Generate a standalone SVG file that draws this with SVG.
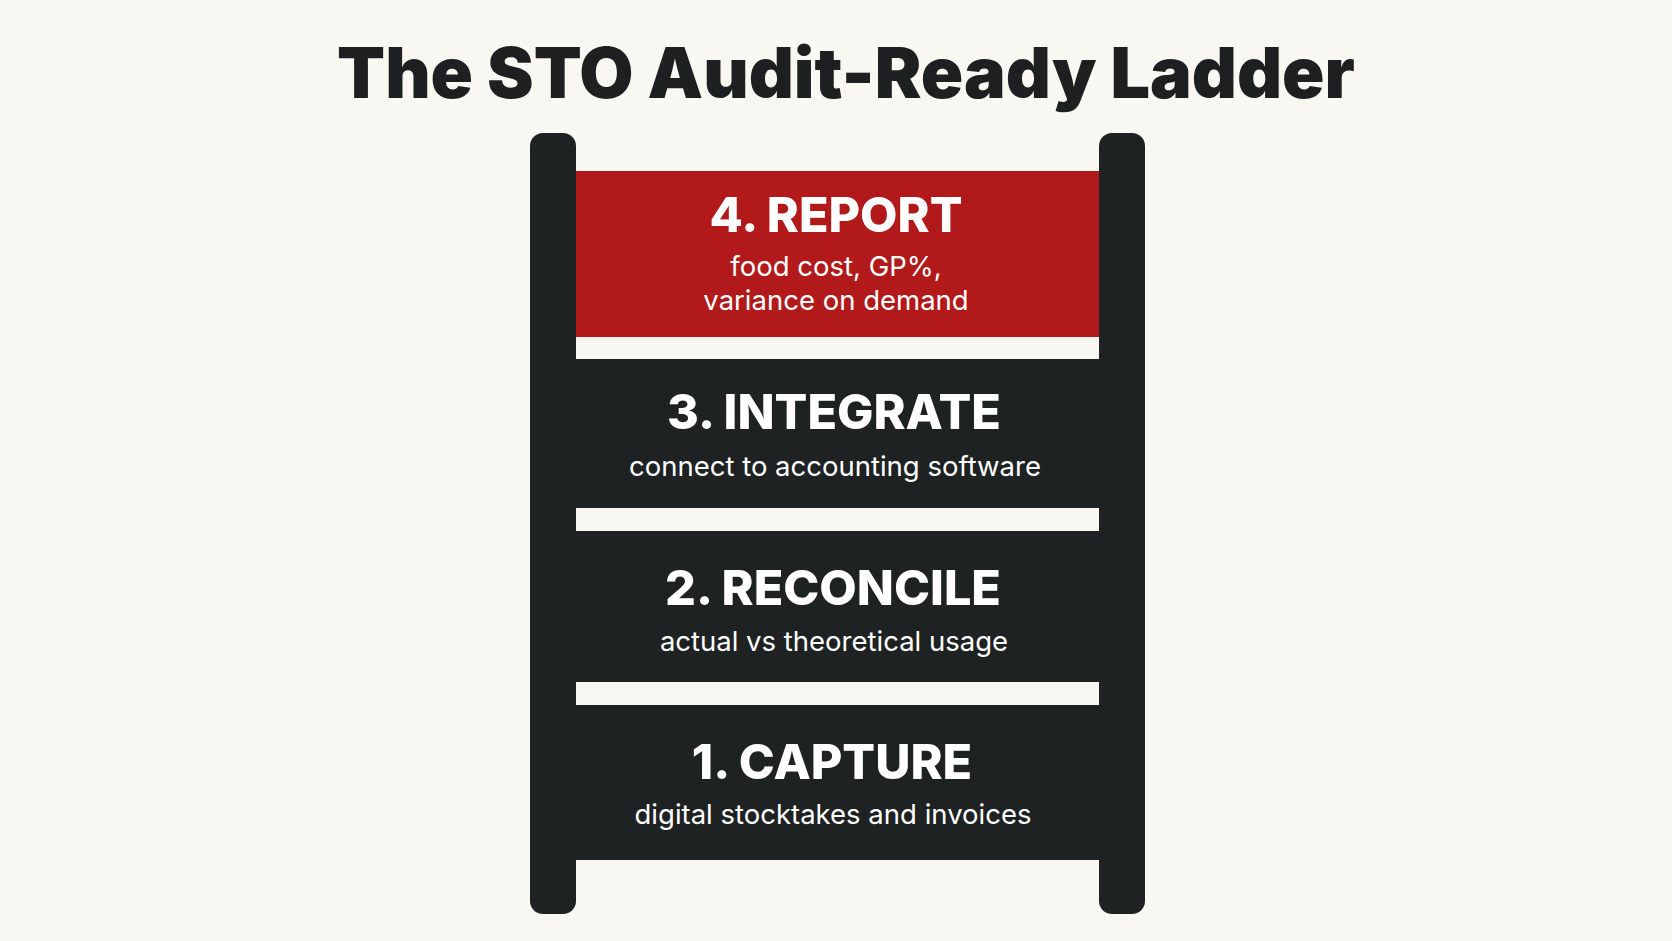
<svg xmlns="http://www.w3.org/2000/svg" width="1672" height="941" viewBox="0 0 1672 941">
<style>
.title{font-family:Inter,"Liberation Sans",sans-serif;font-weight:900;font-size:70px;fill:#1d1f20;text-anchor:middle}
.rail{fill:#1f2223}
.rung{fill:#1f2223}
.red{fill:#b2191b}
.h{font-family:Inter,"Liberation Sans",sans-serif;font-weight:800;font-size:48.5px;fill:#ffffff;text-anchor:middle}
.s{font-family:Inter,"Liberation Sans",sans-serif;font-weight:400;font-size:27.5px;fill:#ffffff;text-anchor:middle}
</style>
<rect width="1672" height="941" fill="#f9f7f2"/>
<text class="title" x="846" y="98">The STO Audit-Ready Ladder</text>
<g id="rails">
<rect class="rail" x="530" y="133" width="46" height="781" rx="13"/>
<rect class="rail" x="1099" y="133" width="46" height="781" rx="13"/>
</g>
<g id="step4">
<rect class="red" x="576" y="171" width="523" height="166"/>
<text class="h" x="836" y="232">4. REPORT</text>
<text class="s" x="836" y="276">food cost, GP%,</text>
<text class="s" x="836" y="310">variance on demand</text>
</g>
<g id="step3">
<rect class="rung" x="576" y="359" width="523" height="149"/>
<text class="h" x="834" y="429">3. INTEGRATE</text>
<text class="s" x="835" y="476">connect to accounting software</text>
</g>
<g id="step2">
<rect class="rung" x="576" y="531" width="523" height="151"/>
<text class="h" x="833" y="605">2. RECONCILE</text>
<text class="s" x="834" y="651">actual vs theoretical usage</text>
</g>
<g id="step1">
<rect class="rung" x="576" y="705" width="523" height="155"/>
<text class="h" x="832" y="779">1. CAPTURE</text>
<text class="s" x="833" y="824">digital stocktakes and invoices</text>
</g>
<g id="connectors"></g>
</svg>
